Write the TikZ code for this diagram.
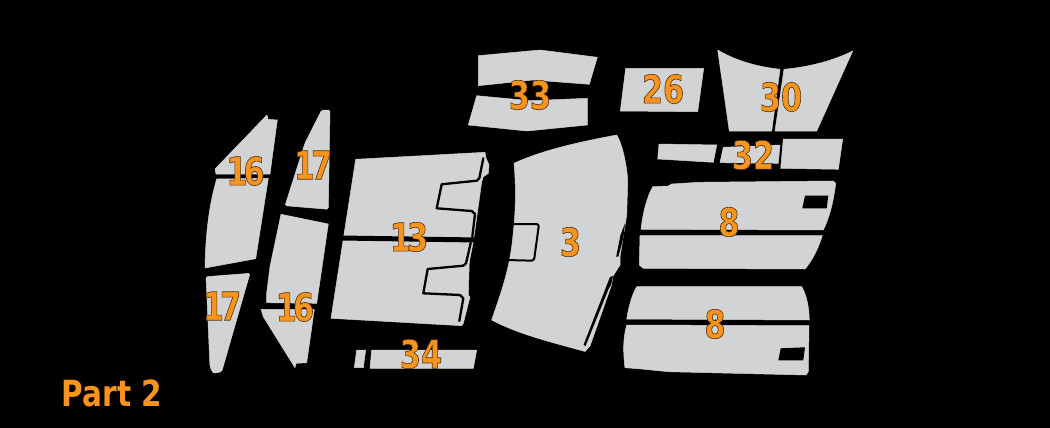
\documentclass[tikz,border=0pt]{standalone}
\usepackage{fontspec}
\setmainfont{DejaVu Sans}
\newfontfamily\numfont[FakeStretch=0.78]{DejaVu Sans}
\newfontfamily\partfont[FakeStretch=0.82]{DejaVu Sans}
\definecolor{panelgray}{HTML}{D1D3D4}
\definecolor{markorange}{HTML}{F7941D}
\newcommand{\outlined}[1]{\special{pdf:code 2 Tr 0.6 w 0.33 0.2 0.05 RG}#1\special{pdf:code 0 Tr}}
\tikzset{
  panel/.style={fill=panelgray,draw=panelgray,line width=0.5pt,line join=round},
  softpanel/.style={panel,rounded corners=1.5pt},
  cutline/.style={draw=black,line width=2.3pt,line join=round,line cap=round},
  seam/.style={draw=black,line width=5pt},
  hole/.style={fill=black},
  partnum/.style={inner sep=0pt,text=markorange,font={\numfont\bfseries\fontsize{39}{39}\selectfont}},
  partname/.style={inner sep=0pt,text=markorange,font={\partfont\bfseries\fontsize{36}{36}\selectfont}}
}
\begin{document}
\begin{tikzpicture}[x=1pt,y=-1pt]
\useasboundingbox[fill=black] (0,0) rectangle (1050,428);
% left column
\fill[panel] (215,169) -- (267,115) -- (268,119.3) -- (277.3,120) -- (270,174) -- (216,174) -- cycle;
\fill[panel] (216.7,179) -- (268.3,178.3) -- (255.7,258.7) -- (205,268) .. controls (205.5,235) and (209,205) .. cycle;
\fill[softpanel] (206,276.7) -- (250,273.3) -- (221.7,371.7) -- (213.3,373.3) -- (210,366.7) -- cycle;
\fill[softpanel] (321.7,110) -- (330,110) -- (328.3,209.3) -- (285,205.7) -- (305,143) -- cycle;
\fill[panel] (281,214.3) -- (328.3,224) -- (316.7,303.3) -- (266.7,302.7) -- (266.7,293) -- (270,266.7) -- cycle;
\fill[panel] (261,309.3) -- (314.3,309.3) -- (306.7,362.7) -- (296,363.3) -- (295,367.7) -- (263.3,316.7) -- cycle;
% panel 13
\fill[panel] (355.7,159.3) -- (485,152.3) -- (486,158) -- (489,165) -- (488.3,173.3) -- (483.3,176.7) -- (481.7,181.7) -- (473.3,241.7) -- (469.3,261.7) -- (468.3,295) -- (470,297) -- (463.3,323.3) -- (461.7,325.7) -- (331,318.3) -- cycle;
\draw[seam] (340,238) -- (478,240);
\draw[cutline] (483.3,158.3) -- (479.3,178.3) -- (476.7,180.7) -- (441.7,184.3) -- (436.7,208.3) -- (471.7,211) -- (475,214) -- (472.3,236.7);
\draw[cutline] (470.7,243) -- (466,263.3) -- (463.3,265.7) -- (427.7,269) -- (423.3,293.3) -- (460,295) -- (463.3,298.3) -- (459.3,321);
% strip 34
\fill[panel] (356.7,350) -- (365.7,350) -- (363.3,367.7) -- (354.3,367.7) -- cycle;
\fill[panel] (371.7,350) -- (476.7,350) -- (473.3,368.3) -- (370,368.3) -- cycle;
% panel 33
\fill[panel] (478.3,55.7) -- (540,50) -- (597.3,57.3) -- (589.3,84.3) -- (533,80) -- (478.3,85.7) -- cycle;
\fill[panel] (476.7,95.7) -- (530,100.7) -- (587.3,98.3) -- (587.3,125) -- (526.7,131) -- (468.3,125) -- cycle;
% panel 26
\fill[panel] (625.7,68.3) -- (703.7,68.3) -- (697.7,111.7) -- (620.3,111) -- cycle;
% panel 30
\fill[panel] (717.7,50) .. controls (738,62) and (760,67) .. (780,69.3) -- (771.7,131) -- (729.3,131) -- cycle;
\fill[panel] (784,69.3) .. controls (810,67) and (835,60) .. (852.7,51) -- (816.7,131) -- (775,131) -- cycle;
% panel 32
\fill[panel] (659,144) -- (716.7,145) -- (713.3,162.3) -- (657.7,159) -- cycle;
\fill[panel] (723.3,147.3) -- (780,145) -- (778.3,163.3) -- (720,162.7) -- cycle;
\fill[panel] (783.3,139) -- (842.7,139) -- (838.3,169.3) -- (780.7,168.3) -- cycle;
% panel 3
\fill[panel] (514,163.3) .. controls (545,149) and (585,141) .. (616.7,135) .. controls (622,143) and (627,165) .. (627.7,181.7) -- (626.7,215) -- (620,256.7) -- (620,265) -- (613,276) -- (611.5,285) -- (590,346) -- (585,351.5) .. controls (555,343) and (520,335) .. (491.7,320) .. controls (500,295) and (510,270) .. (513,235) .. controls (516,210) and (516,185) .. cycle;
\fill[hole] (625,223.3) -- (620.5,235) -- (616.2,256.7) -- (618.3,256.7) -- (623.3,238.3) -- cycle;
\fill[hole] (613,276) -- (610,277) -- (583.5,345) -- (585.5,346) -- (609,288) -- (611,285) -- cycle;
\draw[cutline,line width=2pt,rounded corners=2.5pt] (510,224) -- (539,224) -- (534,260.7) -- (505,260);
% door panels
\fill[panel] (652.7,186.7) -- (668.3,186) -- (671.7,184) -- (698.3,182.3) -- (833.3,181) -- (835.7,183.3) .. controls (833,205) and (829,218) .. (823.3,230) -- (641,229.3) .. controls (643,212) and (647,197) .. cycle;
\fill[hole] (805,195.7) -- (828.3,195.7) -- (826.7,208.3) -- (802.3,208.3) -- cycle;
\fill[panel] (640,235.7) -- (822.3,235.7) .. controls (817,252) and (811,262) .. (805,269) -- (643.3,268.3) -- (639.3,265) -- cycle;
\fill[panel] (636.7,286.7) -- (801.7,286.7) .. controls (807,296) and (809,308) .. (809.3,320) -- (626.7,319) .. controls (629,305) and (632,295) .. cycle;
\fill[panel] (626.7,325) -- (809,325.7) -- (808.3,371.7) -- (806,375) -- (668.3,371.7) -- (641.7,369) -- (625,367.7) .. controls (623,352) and (623,338) .. cycle;
\fill[hole] (780.7,348.3) -- (805,347.3) -- (803.3,360.3) -- (778.3,360.3) -- cycle;
% labels
\node[partnum] (n16a) at (245.5,171) {\outlined{1\kern-4pt 6}};
\node[partnum] (n17a) at (313,165) {\outlined{1\kern-4pt 7}};
\node[partnum] (n13) at (409,237) {\outlined{1\kern-4pt 3}};
\node[partnum] (n3) at (570.5,242) {\outlined{3}};
\node[partnum] (n17b) at (222,306) {\outlined{1\kern-4pt 7}};
\node[partnum] (n16b) at (295,307) {\outlined{1\kern-4pt 6}};
\node[partnum] (n34) at (421,354) {\outlined{34}};
\node[partnum] (n33) at (530,95) {\outlined{33}};
\node[partnum] (n26) at (663,89) {\outlined{26}};
\node[partnum] (n30) at (781,97) {\outlined{30}};
\node[partnum] (n32) at (753,155) {\outlined{32}};
\node[partnum] (n8a) at (729,222) {\outlined{8}};
\node[partnum] (n8b) at (715,324) {\outlined{8}};
\node[partname] (title) at (112,393) {Part 2};
\end{tikzpicture}
\end{document}
